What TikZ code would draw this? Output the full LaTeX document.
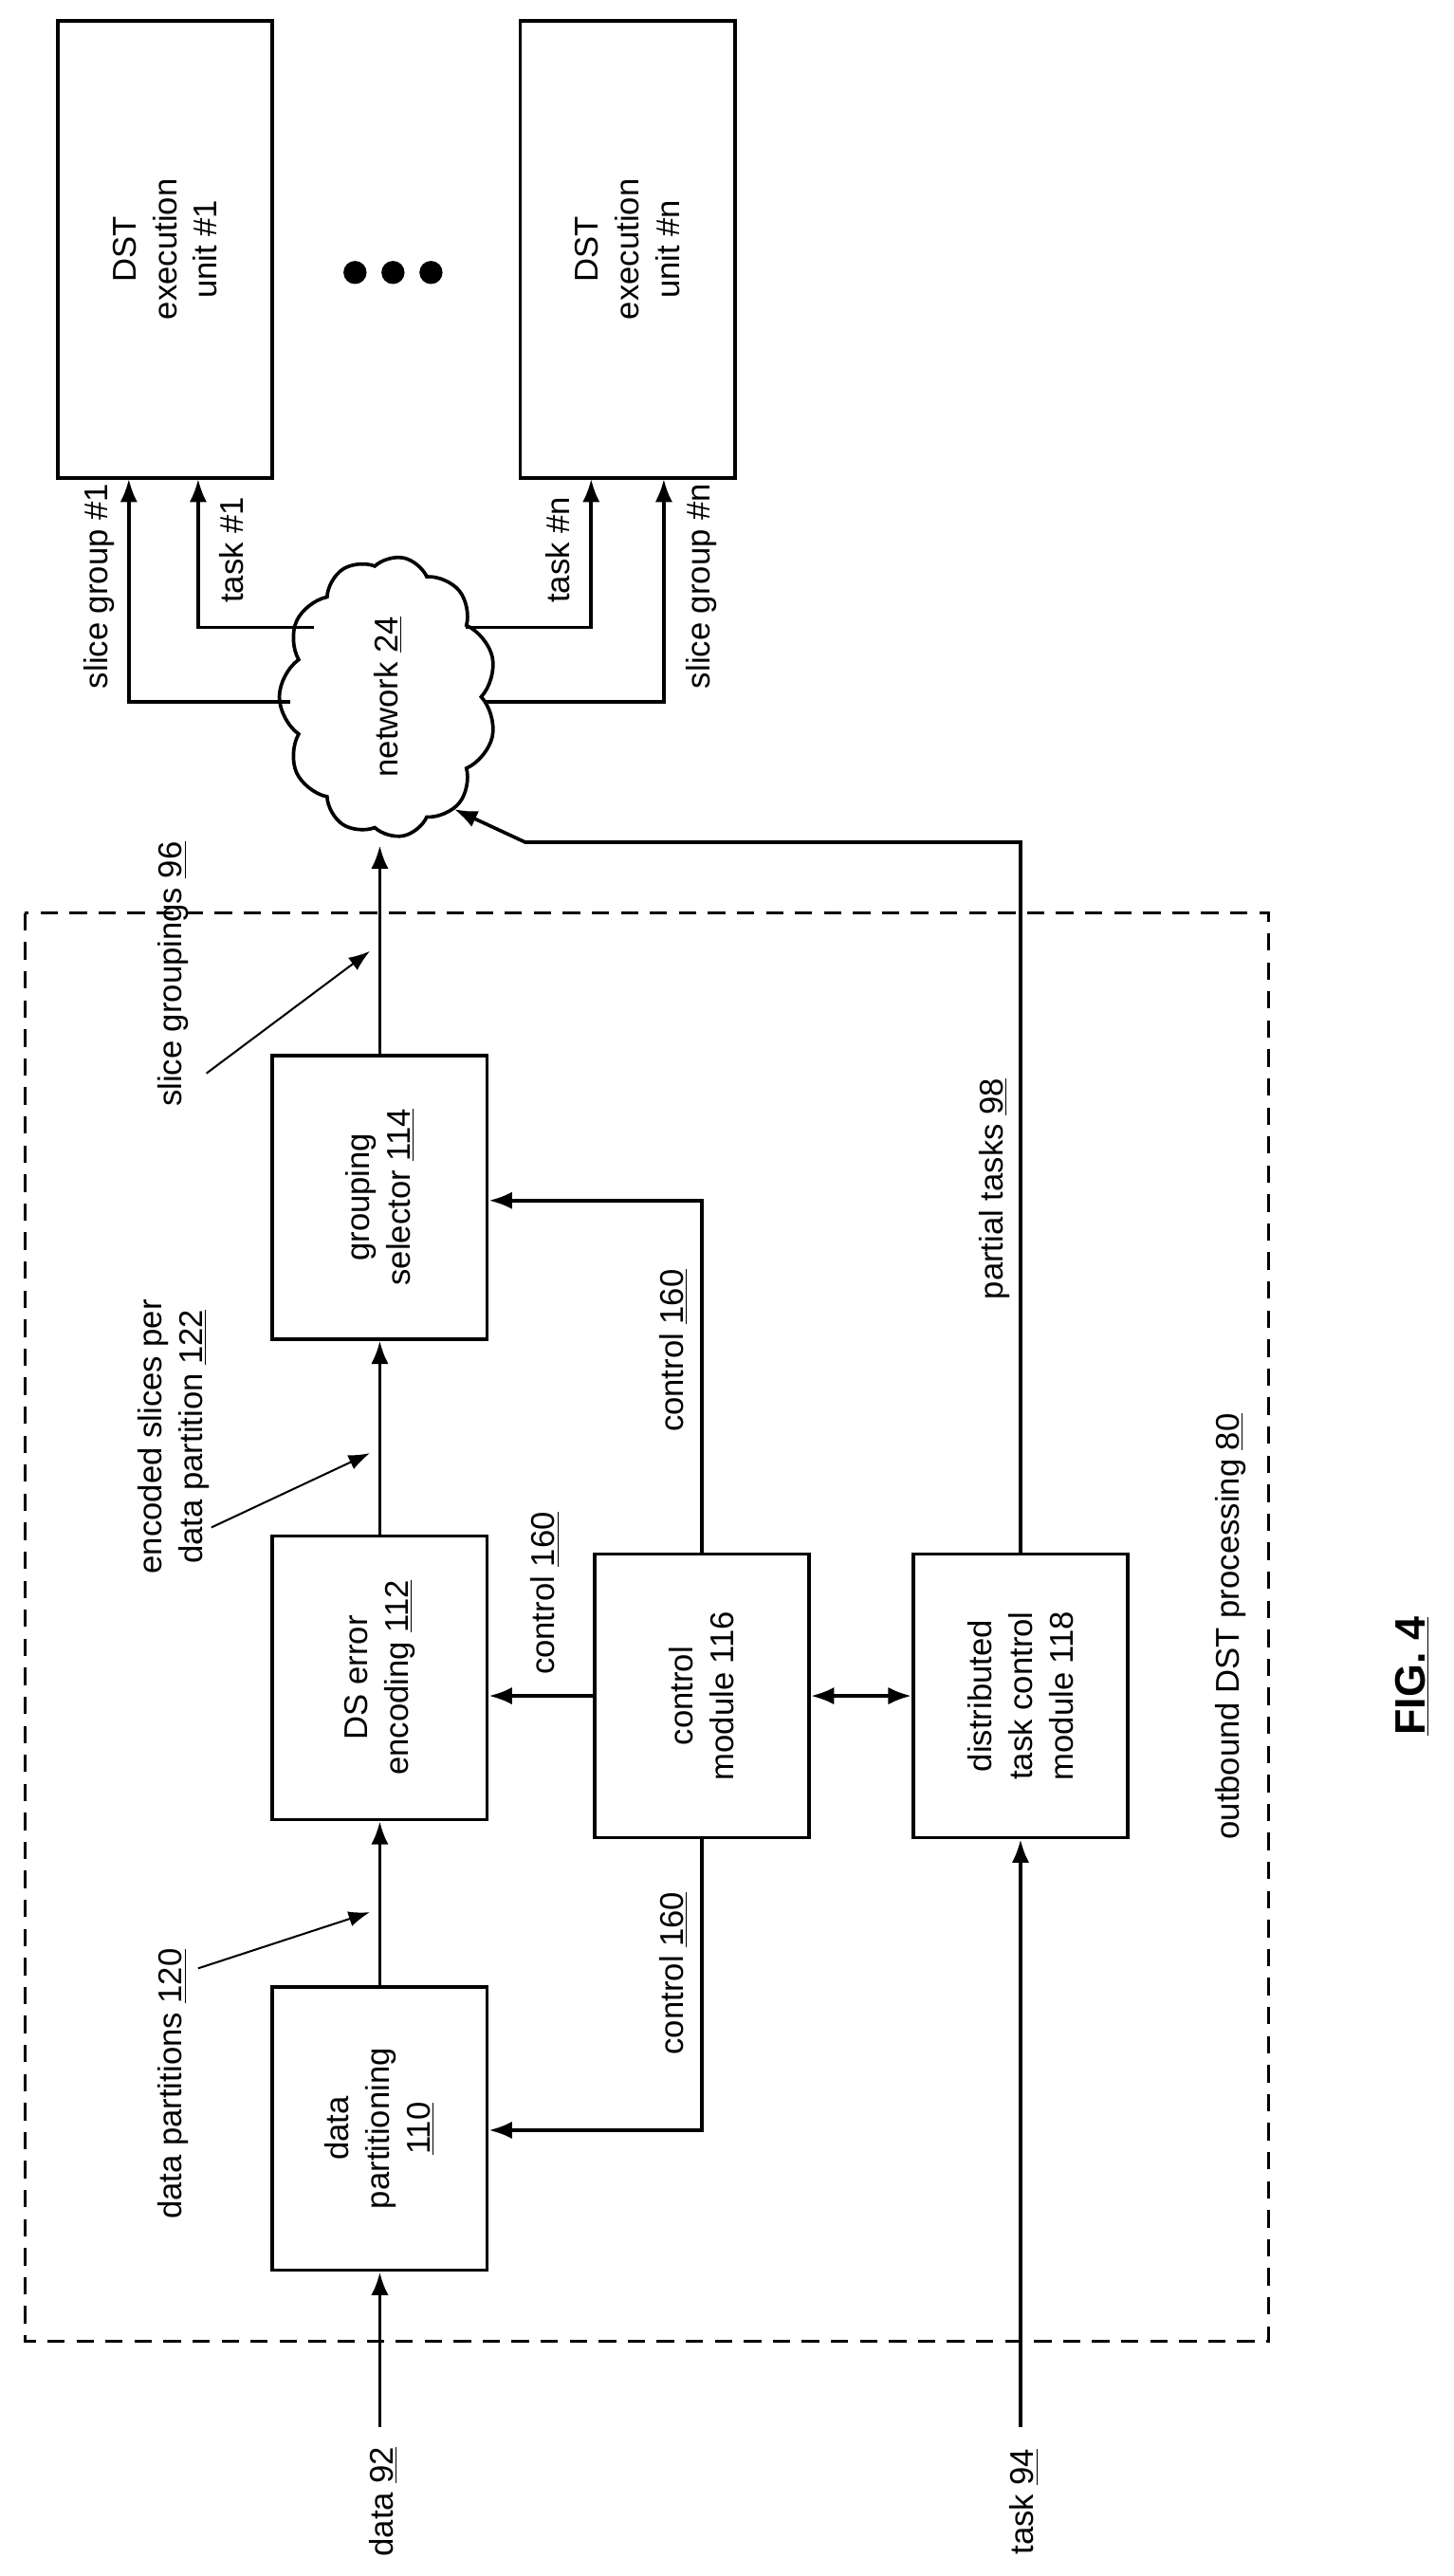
\documentclass[tikz,border=0pt]{standalone}
\usepackage{fontspec}
\setmainfont{Liberation Sans}
\usepackage{tikz}
\usetikzlibrary{shapes.symbols, arrows.meta, positioning, calc}
\tikzstyle{block} = [rectangle, draw=black, line width=1.8pt, rotate=90, minimum width=5.15cm, minimum height=3.9cm, align=center, font=\fontsize{17}{21}\selectfont]
\tikzstyle{unit} = [block, minimum width=8.3cm]
\tikzstyle{lbl} = [rotate=90, align=center, font=\fontsize{17}{21}\selectfont]
\tikzstyle{arrow} = [line width=1.8pt, -{Latex[length=12pt,width=9pt]}]
\tikzstyle{leader} = [line width=1pt, -{Latex[length=11pt,width=8pt]}]

\begin{document}
\begin{tikzpicture}[x=0.03cm, y=-0.03cm]
    \useasboundingbox (0,0) rectangle (880,1560);
    % execution units and network
    \node[unit] (du1) at (100,151) {DST\\execution\\unit \#1};
    \node[unit] (dun) at (380,151) {DST\\execution\\unit \#n};
    \foreach \x in {215,238,261} \fill (\x,165) circle (7);
    \node[cloud, draw, line width=1.8pt, cloud puffs=11, cloud puff arc=110, aspect=1.3, rotate=90, minimum width=5.1cm, minimum height=3.9cm, font=\fontsize{17}{21}\selectfont] (net) at (235,422) {network \underline{24}};
    \coordinate (netin) at (232,512);

    % processing blocks
    \draw[line width=1.4pt, dash pattern=on 9pt off 6pt] (15,553) rectangle (768,1418);
    \node[block] (part) at (230,1289) {data\\partitioning\\\underline{110}};
    \node[block] (enc) at (230,1016) {DS error\\encoding \underline{112}};
    \node[block] (grp) at (230,725) {grouping\\selector \underline{114}};
    \node[block] (ctl) at (425,1027) {control\\module 116};
    \node[block] (dtc) at (618,1027) {distributed\\task control\\module 118};

    \coordinate (d92) at (230,1470);
    \coordinate (t94) at (618,1470);
    \node[lbl] at (232,1515) {data \underline{92}};
    \node[lbl] at (620,1515) {task \underline{94}};

    \draw[arrow] (d92) -- (part.west);
    \draw[arrow] (t94) -- (dtc.west);
    \draw[arrow] (part.east) -- (enc.west);
    \draw[arrow] (enc.east) -- (grp.west);
    \draw[arrow] (grp.east |- 0,640) -- (grp.east |- netin);
    \draw[arrow] (ctl.north) -- (ctl.north -| enc.south);
    \draw[arrow] (ctl.east) -- (425,727) -- (grp.south |- 0,727);
    \draw[arrow] (ctl.west) -- (425,1290) -- (part.south |- 0,1290);
    \draw[line width=1.8pt, {Latex[length=12pt,width=9pt]}-{Latex[length=12pt,width=9pt]}] (ctl.south) -- (dtc.north);
    \draw[arrow] (dtc.east) -- (618,510) -- (318,510) -- (275,490);

    \draw[arrow] (176,425) -- (78,425) -- (78,290);
    \draw[arrow] (190,380) -- (120,380) -- (120,290);
    \draw[arrow] (282,380) -- (358,380) -- (358,290);
    \draw[arrow] (294,425) -- (402,425) -- (402,290);

    % labels
    \node[lbl] at (60,355) {slice group \#1};
    \node[lbl] at (140,333) {task \#1};
    \node[lbl] at (338,333) {task \#n};
    \node[lbl] at (425,355) {slice group \#n};
    \node[lbl] (lp) at (105,1262) {data partitions \underline{120}};
    \draw[leader] (120,1192) -- (224,1158);
    \node[lbl] (le) at (105,870) {encoded slices per\\data partition \underline{122}};
    \draw[leader] (128,925) -- (224,880);
    \node[lbl] (lg) at (105,590) {slice groupings \underline{96}};
    \draw[leader] (125,650) -- (224,576);
    \node[lbl] at (330,965) {control \underline{160}};
    \node[lbl] at (408,818) {control \underline{160}};
    \node[lbl] at (408,1195) {control \underline{160}};
    \node[lbl] at (602,720) {partial tasks \underline{98}};
    \node[lbl] at (745,985) {outbound DST processing \underline{80}};
    \node[lbl, font=\bfseries\fontsize{22}{26}\selectfont] at (855,1015) {\underline{FIG. 4}};
\end{tikzpicture}
\end{document}
